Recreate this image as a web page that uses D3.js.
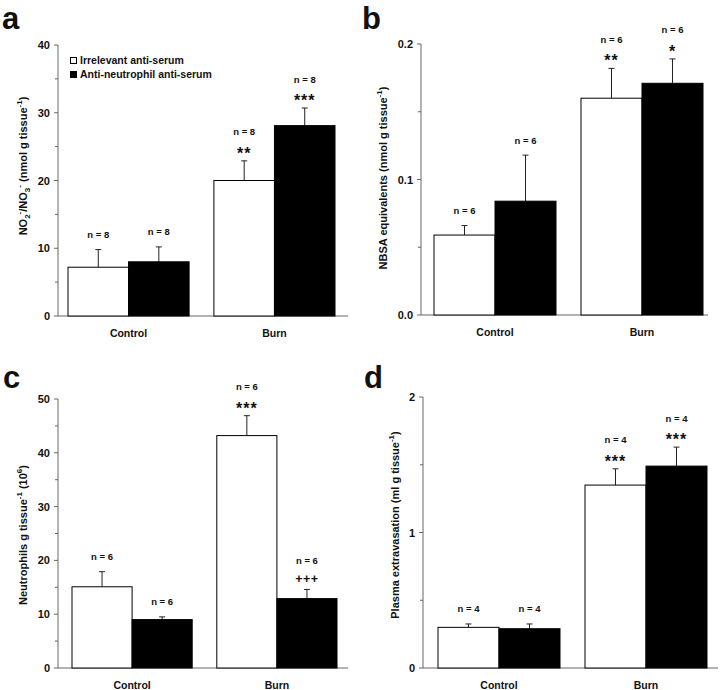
<!DOCTYPE html>
<html><head><meta charset="utf-8">
<script src="https://cdn.jsdelivr.net/npm/d3@7"></script>
<style>
html,body{margin:0;padding:0;background:#fff;}
svg{display:block;font-family:"Liberation Sans",Arial,Helvetica,sans-serif;font-weight:bold;}
</style></head>
<body><svg id="c" width="720" height="690"></svg>
<script>
// ---------- DATA ----------
const categories = ["Control", "Burn"];
const seriesNames = ["Irrelevant anti-serum", "Anti-neutrophil anti-serum"];

// Panel a: NO2-/NO3- (nmol g tissue-1)
const aIrrelevant = [7.2, 20.0];
const aIrrelevantErr = [2.6, 2.9];
const aAntiNeutrophil = [8.0, 28.1];
const aAntiNeutrophilErr = [2.2, 2.6];
const aN = [["n = 8", "n = 8"], ["n = 8", "n = 8"]];
const aSig = [["", ""], ["**", "***"]];
const aTicks = [0, 10, 20, 30, 40];

// Panel b: NBSA equivalents (nmol g tissue-1)
const bIrrelevant = [0.059, 0.160];
const bIrrelevantErr = [0.007, 0.022];
const bAntiNeutrophil = [0.084, 0.171];
const bAntiNeutrophilErr = [0.034, 0.018];
const bN = [["n = 6", "n = 6"], ["n = 6", "n = 6"]];
const bSig = [["", ""], ["**", "*"]];
const bTicks = [0, 0.1, 0.2];

// Panel c: Neutrophils g tissue-1 (10^6)
const cIrrelevant = [15.1, 43.2];
const cIrrelevantErr = [2.8, 3.7];
const cAntiNeutrophil = [9.0, 12.9];
const cAntiNeutrophilErr = [0.5, 1.7];
const cN = [["n = 6", "n = 6"], ["n = 6", "n = 6"]];
const cSig = [["", ""], ["***", "+++"]];
const cTicks = [0, 10, 20, 30, 40, 50];

// Panel d: Plasma extravasation (ml g tissue-1)
const dIrrelevant = [0.30, 1.35];
const dIrrelevantErr = [0.025, 0.12];
const dAntiNeutrophil = [0.29, 1.49];
const dAntiNeutrophilErr = [0.035, 0.14];
const dN = [["n = 4", "n = 4"], ["n = 4", "n = 4"]];
const dSig = [["", ""], ["***", "***"]];
const dTicks = [0, 1, 2];

// ---------- LAYOUT ----------
const panels = [
  {letter: "a", lx: 2, ly: 29, axisX: 58, axisEnd: 348, y0: 316, y1: 45, max: 40,
   band: [68, 335], ticks: aTicks, fmt: d3.format("d"),
   vals: [aIrrelevant, aAntiNeutrophil], errs: [aIrrelevantErr, aAntiNeutrophilErr], n: aN, sig: aSig,
   ylabX: 27, ylabY: 166,
   ylab: [["NO"],["2","sub"],["-","sup"],["/NO"],["3","sub"],["-","sup"],[" (nmol g tissue"],["-1","sup"],[")"]],
   legend: true},
  {letter: "b", lx: 362, ly: 29, axisX: 421, axisEnd: 708, y0: 315, y1: 44, max: 0.2,
   band: [434, 703], ticks: bTicks, fmt: d3.format(".1f"),
   vals: [bIrrelevant, bAntiNeutrophil], errs: [bIrrelevantErr, bAntiNeutrophilErr], n: bN, sig: bSig,
   ylabX: 387, ylabY: 178,
   ylab: [["NBSA equivalents (nmol g tissue"],["-1","sup"],[")"]]},
  {letter: "c", lx: 3, ly: 388, axisX: 58, axisEnd: 348, y0: 668, y1: 399, max: 50,
   band: [72, 337], ticks: cTicks, fmt: d3.format("d"),
   vals: [cIrrelevant, cAntiNeutrophil], errs: [cIrrelevantErr, cAntiNeutrophilErr], n: cN, sig: cSig,
   ylabX: 27, ylabY: 535,
   ylab: [["Neutrophils g tissue"],["-1","sup"],[" (10"],["6","sup"],[")"]]},
  {letter: "d", lx: 364, ly: 388, axisX: 423, axisEnd: 718, y0: 668, y1: 397, max: 2,
   band: [438, 707], ticks: dTicks, fmt: d3.format("d"),
   vals: [dIrrelevant, dAntiNeutrophil], errs: [dIrrelevantErr, dAntiNeutrophilErr], n: dN, sig: dSig,
   ylabX: 399, ylabY: 525,
   ylab: [["Plasma extravasation (ml g tissue"],["-1","sup"],[")"]]}
];

const svg = d3.select("#c");
const AX = "#666", INK = "#111";

panels.forEach(p => {
  const g = svg.append("g");
  const y = d3.scaleLinear().domain([0, p.max]).range([p.y0, p.y1]);
  const x = d3.scaleBand().domain(categories).range(p.band).paddingInner(0.17);
  const xs = d3.scaleBand().domain(d3.range(seriesNames.length)).range([0, x.bandwidth()]);

  // panel letter
  g.append("text").attr("x", p.lx).attr("y", p.ly).attr("font-size", 31).attr("fill", INK).text(p.letter);

  // y axis
  const minor = d3.range(0, p.ticks.length - 1).map(i => (p.ticks[i] + p.ticks[i + 1]) / 2);
  g.append("line").attr("x1", p.axisX).attr("x2", p.axisX).attr("y1", y(p.max)).attr("y2", y(0)).attr("stroke", AX).attr("stroke-width", 1);
  g.selectAll(".mj").data(p.ticks).join("line").attr("class","mj").attr("x1", p.axisX - 4).attr("x2", p.axisX)
    .attr("y1", d => y(d)).attr("y2", d => y(d)).attr("stroke", AX);
  g.selectAll(".mn").data(minor).join("line").attr("class","mn").attr("x1", p.axisX - 3).attr("x2", p.axisX)
    .attr("y1", d => y(d)).attr("y2", d => y(d)).attr("stroke", AX);
  g.selectAll(".tl").data(p.ticks).join("text").attr("class","tl").attr("x", p.axisX - 8).attr("y", d => y(d) + 4)
    .attr("text-anchor", "end").attr("font-size", 11).attr("fill", INK).text(p.fmt);
  // x axis
  g.append("line").attr("x1", p.axisX).attr("x2", p.axisEnd).attr("y1", y(0)).attr("y2", y(0)).attr("stroke", AX);
  g.selectAll(".xl").data(categories).join("text").attr("class","xl")
    .attr("x", d => x(d) + x.bandwidth() / 2).attr("y", y(0) + 21)
    .attr("text-anchor", "middle").attr("font-size", 10.5).attr("fill", INK).text(d => d);

  // bars
  categories.forEach((cat, ci) => {
    seriesNames.forEach((s, si) => {
      const v = p.vals[si][ci], e = p.errs[si][ci];
      const bx = x(cat) + xs(si), bw = xs.bandwidth(), cx = bx + bw / 2;
      g.append("line").attr("x1", cx).attr("x2", cx).attr("y1", y(v)).attr("y2", y(v + e)).attr("stroke", "#222");
      g.append("line").attr("x1", cx - 3).attr("x2", cx + 3).attr("y1", y(v + e)).attr("y2", y(v + e)).attr("stroke", "#222");
      g.append("rect").attr("x", bx).attr("y", y(v)).attr("width", bw).attr("height", y(0) - y(v))
        .attr("fill", si === 0 ? "#fff" : "#000").attr("stroke", "#000").attr("stroke-width", 1);
      const top = y(v + e);
      const sig = p.sig[ci][si];
      let nCenter;
      if (sig) {
        const sc = top - 11;
        const isStar = sig[0] === "*";
        g.append("text").attr("x", cx).attr("y", isStar ? sc + 9 : sc + 4.5).attr("text-anchor", "middle")
          .attr("font-size", isStar ? 16 : 12.5).attr("letter-spacing", isStar ? 1 : 0.5)
          .attr("fill", INK).text(sig);
        nCenter = sc - 18;
      } else {
        nCenter = top - 15;
      }
      g.append("text").attr("x", cx).attr("y", nCenter + 3.5).attr("text-anchor", "middle")
        .attr("font-size", 9.5).attr("fill", INK).text(p.n[ci][si]);
    });
  });

  // y label
  const t = g.append("text").attr("transform", `translate(${p.ylabX},${p.ylabY}) rotate(-90)`)
    .attr("text-anchor", "middle").attr("font-size", 11).attr("fill", INK).attr("dy", "0.35em");
  let off = 0;
  p.ylab.forEach(([s, k]) => {
    let target = 0, fs = 11;
    if (k === "sub") { target = 3; fs = 8; }
    else if (k === "sup") { target = -5; fs = 8; }
    t.append("tspan").attr("dy", target - off).attr("font-size", fs).text(s);
    off = target;
  });

  if (p.legend) {
    seriesNames.forEach((s, i) => {
      const ly = 64 + i * 14;
      g.append("rect").attr("x", 70.5).attr("y", ly - 6.5).attr("width", 6).attr("height", 6)
        .attr("fill", i === 0 ? "#fff" : "#000").attr("stroke", "#000");
      g.append("text").attr("x", 80).attr("y", ly).attr("font-size", 10.5).attr("fill", INK).text(s);
    });
  }
});
</script></body></html>
